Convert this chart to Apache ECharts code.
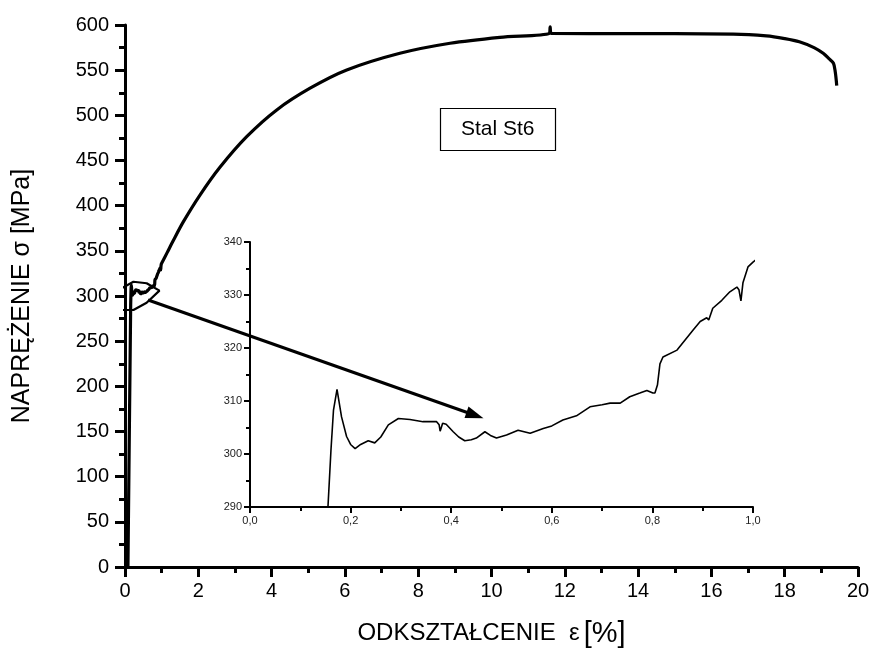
<!DOCTYPE html>
<html>
<head>
<meta charset="utf-8">
<script src="https://cdn.jsdelivr.net/npm/echarts@6/dist/echarts.min.js"></script>
<style>
  html, body { margin: 0; padding: 0; background: #fff; }
  #chart { width: 877px; height: 648px; }
</style>
</head>
<body>
<div id="chart"></div>
<script>
// Tensile test of St6 steel: strain [%] vs stress [MPa]

// elastic loading start
const elasticStart = [[0.08, 0]];

// yield region up to 1 % strain (also shown enlarged in the inset)
const yieldDetail = [
  [0.155, 290], [0.161, 300.8], [0.166, 308.3], [0.173, 312.2], [0.182, 307],
  [0.192, 303.3], [0.2, 301.8], [0.209, 301.0], [0.22, 301.8], [0.235, 302.5],
  [0.248, 302.1], [0.26, 303.2], [0.275, 305.5], [0.295, 306.7], [0.318, 306.5],
  [0.344, 306.1], [0.371, 306.1], [0.376, 305.5], [0.378, 304.3], [0.383, 305.8],
  [0.39, 305.6], [0.404, 304.2], [0.415, 303.2], [0.427, 302.5], [0.44, 302.7],
  [0.45, 303.0], [0.467, 304.2], [0.478, 303.5], [0.49, 303.0], [0.51, 303.6],
  [0.533, 304.5], [0.557, 303.9], [0.583, 304.8], [0.6, 305.3], [0.622, 306.4],
  [0.649, 307.2], [0.676, 308.9], [0.7, 309.3], [0.716, 309.6], [0.736, 309.6],
  [0.755, 310.8], [0.775, 311.5], [0.789, 312.0], [0.801, 311.5], [0.805, 311.5],
  [0.81, 313.0], [0.815, 317.0], [0.821, 318.3], [0.849, 319.6], [0.865, 321.5],
  [0.881, 323.4], [0.895, 325.0], [0.908, 325.7], [0.912, 325.3], [0.92, 327.5],
  [0.938, 329.0], [0.954, 330.6], [0.968, 331.5], [0.972, 331.0], [0.976, 328.9],
  [0.98, 332.3], [0.99, 335.3], [1.0, 336.2]
];

// strain hardening, necking and fracture
const hardening = [
  [1.15, 348], [1.3, 360], [1.59, 382], [2.05, 412], [2.59, 442.5],
  [3.32, 476.4], [4.14, 506], [5.05, 530], [6.05, 550.2], [7.5, 568.7],
  [8.87, 579.8], [10.23, 586.4], [11.58, 590.8], [11.6, 598], [11.63, 590.6],
  [13.4, 590.5], [16.6, 590], [17.5, 588], [18.0, 585], [18.4, 581.5],
  [18.8, 575], [19.05, 568.7], [19.2, 563], [19.33, 557.6], [19.38, 548],
  [19.42, 533]
];

const curve = elasticStart.concat(yieldDetail, hardening);

// outline marking the yield region on the main plot
const calloutOutline = [
  [-0.23, 303], [-0.14, 307.4], [0.23, 315.8], [0.59, 314.1], [0.94, 305.9],
  [0.59, 292.6], [0.23, 284.5], [-0.14, 284.5], [-0.21, 295.6], [-0.23, 303]
];
// arrow from the outline towards the inset
const calloutArrow = [[0.63, 295.6], [9.55, 168]];

const FONT = "'Liberation Sans', Arial, sans-serif";

const chart = echarts.init(document.getElementById('chart'), null, { renderer: 'canvas' });

chart.setOption({
  animation: false,
  backgroundColor: '#fff',
  title: {
    text: 'Stal St6',
    left: 440,
    top: 108,
    padding: [11, 21, 11, 21],
    borderColor: '#000',
    borderWidth: 1.2,
    textStyle: { fontFamily: FONT, fontSize: 21, fontWeight: 'normal', color: '#000' }
  },
  grid: [
    { left: 125, top: 25, width: 733, height: 542, outerBoundsMode: 'none', containLabel: false },
    { left: 250, top: 242, width: 503, height: 265, outerBoundsMode: 'none', containLabel: false }
  ],
  xAxis: [
    {
      gridIndex: 0, type: 'value', min: 0, max: 20, interval: 2,
      name: '{a|ODKSZTAŁCENIE}  {b|ε}{c|[%]}', nameLocation: 'middle', nameGap: 52,
      nameTextStyle: {
        fontFamily: FONT, fontSize: 24, color: '#000',
        rich: {
          a: { fontFamily: FONT, fontSize: 24, color: '#000' },
          b: { fontFamily: FONT, fontSize: 24, color: '#000', padding: [0, 4, 0, 0] },
          c: { fontFamily: FONT, fontSize: 29, color: '#000' }
        }
      },
      axisLine: { onZero: false, lineStyle: { color: '#000', width: 3 } },
      axisTick: { length: 10, lineStyle: { color: '#000', width: 3 } },
      minorTick: { show: true, splitNumber: 2, length: 6, lineStyle: { color: '#000', width: 3 } },
      axisLabel: { fontFamily: FONT, fontSize: 20, color: '#000', margin: 14 },
      splitLine: { show: false }
    },
    {
      gridIndex: 1, type: 'value', min: 0, max: 1, interval: 0.2,
      axisLine: { onZero: false, lineStyle: { color: '#000', width: 2 } },
      axisTick: { length: 6, lineStyle: { color: '#000', width: 2 } },
      minorTick: { show: true, splitNumber: 2, length: 4, lineStyle: { color: '#000', width: 2 } },
      axisLabel: {
        fontFamily: FONT, fontSize: 11, color: '#222', margin: 8,
        formatter: v => v.toFixed(1).replace('.', ',')
      },
      splitLine: { show: false }
    }
  ],
  yAxis: [
    {
      gridIndex: 0, type: 'value', min: 0, max: 600, interval: 50,
      name: 'NAPRĘŻENIE σ [MPa]', nameLocation: 'middle', nameGap: 90,
      nameTextStyle: { fontFamily: FONT, fontSize: 25, color: '#000' },
      axisLine: { show: true, onZero: false, lineStyle: { color: '#000', width: 3 } },
      axisTick: { show: true, length: 10, lineStyle: { color: '#000', width: 3 } },
      minorTick: { show: true, splitNumber: 2, length: 6, lineStyle: { color: '#000', width: 3 } },
      axisLabel: { fontFamily: FONT, fontSize: 20, color: '#000', margin: 16 },
      splitLine: { show: false }
    },
    {
      gridIndex: 1, type: 'value', min: 290, max: 340, interval: 10,
      axisLine: { show: true, onZero: false, lineStyle: { color: '#000', width: 2 } },
      axisTick: { show: true, length: 6, lineStyle: { color: '#000', width: 2 } },
      minorTick: { show: true, splitNumber: 2, length: 4, lineStyle: { color: '#000', width: 2 } },
      axisLabel: { fontFamily: FONT, fontSize: 11, color: '#222', margin: 8 },
      splitLine: { show: false }
    }
  ],
  series: [
    {
      name: 'curve',
      type: 'line',
      xAxisIndex: 0, yAxisIndex: 0,
      data: curve,
      symbol: 'none',
      smooth: 0.3,
      lineStyle: { color: '#000', width: 3.2 },
      z: 3
    },
    {
      name: 'detail',
      type: 'line',
      xAxisIndex: 1, yAxisIndex: 1,
      data: curve,
      symbol: 'none',
      clip: true,
      lineStyle: { color: '#000', width: 1.6 },
      z: 3
    },
    {
      name: 'outline',
      type: 'line',
      xAxisIndex: 0, yAxisIndex: 0,
      data: calloutOutline,
      symbol: 'none',
      clip: false,
      lineStyle: { color: '#000', width: 2.2 },
      z: 6
    },
    {
      name: 'arrow',
      type: 'line',
      xAxisIndex: 0, yAxisIndex: 0,
      data: [],
      z: 6,
      markLine: {
        silent: true,
        symbol: ['none', 'triangle'],
        symbolSize: [12, 18],
        label: { show: false },
        lineStyle: { color: '#000', width: 3, type: 'solid' },
        data: [[
          { coord: calloutArrow[0] },
          { coord: calloutArrow[1] }
        ]]
      }
    }
  ]
});
</script>
</body>
</html>
